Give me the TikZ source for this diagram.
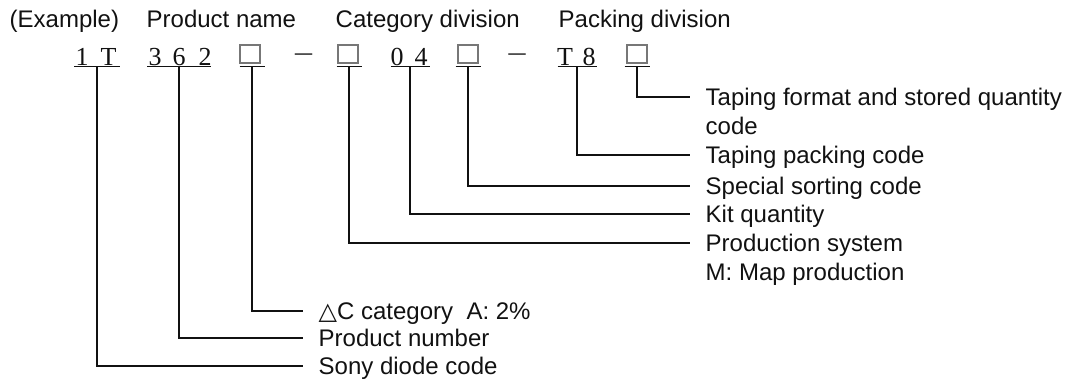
\documentclass[tikz,border=0pt]{standalone}
\usepackage{fontspec}
\setmainfont{Liberation Sans}
\newfontfamily\codefont{Liberation Serif}
\newfontfamily\symfont{DejaVu Sans}
\definecolor{boxgray}{HTML}{777777}
\definecolor{ink}{HTML}{111111}
\begin{document}
\begin{tikzpicture}[x=1pt,y=-1pt,line width=1.4pt,color=ink,
  lab/.style={anchor=west,inner xsep=15pt,inner ysep=0pt,text height=17pt,text depth=0pt,font=\fontsize{24}{29}\selectfont},
  labb/.style={anchor=base west,inner sep=0pt,font=\fontsize{24}{29}\selectfont},
  head/.style={anchor=base west,inner sep=0pt,font=\fontsize{24}{29}\selectfont},
  ch/.style={anchor=base,inner sep=0pt,font=\codefont\fontsize{26}{30}\selectfont},
  dsh/.style={anchor=base,inner sep=0pt,text=ink!80,font=\codefont\fontsize{34}{34}\selectfont},
  sq/.style={draw=boxgray,line width=1.3pt,minimum width=20pt,minimum height=18pt,inner sep=0pt},
  ul/.style={inner sep=0pt,outer sep=0pt,minimum height=0pt}]
\useasboundingbox (0,0) rectangle (1080,386);
% headings
\node[head] (h1) at (9,27) {(Example)};
\node[head] (h2) at (146,27) {Product name};
\node[head] (h3) at (335,27) {Category division};
\node[head] (h4) at (558,27) {Packing division};
% code characters
\node[ch] (c1) at (82,65) {1};
\node[ch] (c2) at (108.5,65) {T};
\node[ch] (c3) at (155,65) {3};
\node[ch] (c4) at (179,65) {6};
\node[ch] (c5) at (205,65) {2};
\node[sq] (s1) at (250,54) {};
\node[dsh] (d1) at (303.5,62) {–};
\node[sq] (s2) at (348,54) {};
\node[ch] (c6) at (397,65) {0};
\node[ch] (c7) at (421,65) {4};
\node[sq] (s3) at (468,54) {};
\node[dsh] (d2) at (517,62) {–};
\node[ch] (c8) at (565,65) {T};
\node[ch] (c9) at (589,65) {8};
\node[sq] (s4) at (637,54) {};
% underline groups
\node[ul,minimum width=46pt] (g1) at (97,66.5) {};
\node[ul,minimum width=64pt] (g2) at (179,66.5) {};
\node[ul,minimum width=25pt] (g3) at (252,66.5) {};
\node[ul,minimum width=25pt] (g4) at (349,66.5) {};
\node[ul,minimum width=39pt] (g5) at (410,66.5) {};
\node[ul,minimum width=25pt] (g6) at (468,66.5) {};
\node[ul,minimum width=39pt] (g7) at (577,66.5) {};
\node[ul,minimum width=25pt] (g8) at (637,66.5) {};
\foreach \g in {g1,g2,g3,g4,g5,g6,g7,g8} {\draw (\g.west) -- (\g.east);}
% labels right
\node[lab] (l8) at (690,97) {Taping format and stored quantity};
\node[labb] (l8b) at (705,134.6) {code};
\node[lab] (l7) at (690,155) {Taping packing code};
\node[lab] (l6) at (690,186) {Special sorting code};
\node[lab] (l5) at (690,214) {Kit quantity};
\node[lab] (l4) at (690,243) {Production system};
\node[labb] (l4b) at (705,280.6) {M: Map production};
% labels bottom
\node[lab] (l3) at (303,311) {{\symfont △}C category\ \ A: 2\%};
\node[lab] (l2) at (303,338) {Product number};
\node[lab] (l1) at (303,366) {Sony diode code};
% connectors
\draw (g8.center) |- (l8.west);
\draw (g7.center) |- (l7.west);
\draw (g6.center) |- (l6.west);
\draw (g5.center) |- (l5.west);
\draw (g4.center) |- (l4.west);
\draw (g3.center) |- (l3.west);
\draw (g2.center) |- (l2.west);
\draw (g1.center) |- (l1.west);
\end{tikzpicture}
\end{document}
